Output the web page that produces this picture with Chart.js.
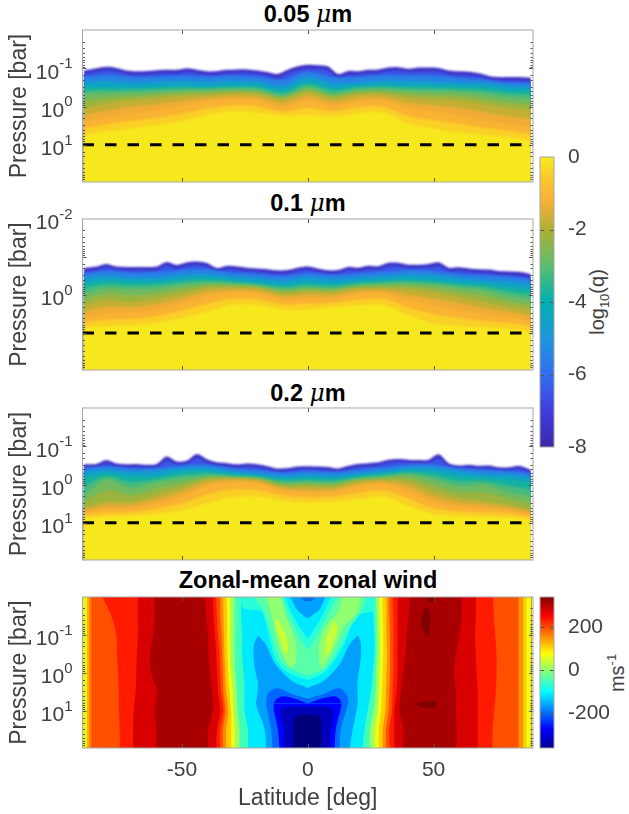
<!DOCTYPE html>
<html>
<head>
<meta charset="utf-8">
<style>
  html, body { margin: 0; padding: 0; background: #fff; }
  body { position: relative; width: 629px; height: 814px; overflow: hidden; font-family: "Liberation Sans", Arial, sans-serif; color: #000; }
  canvas { position: absolute; }
  .titulo { position: absolute; left: 82px; width: 452px; text-align: center; font-size: 23.5px; font-weight: bold; line-height: 24px; white-space: nowrap; }
  .titulo i { font-family: "DejaVu Serif", serif; font-weight: normal; }
  .rotulo { position: absolute; font-size: 20px; color: #404040; white-space: nowrap; transform: translate(-50%, -50%) rotate(-90deg); }
  .rotulo sub, .rotulo sup { font-size: 13px; line-height: 0; }
</style>
</head>
<body>
<div class="titulo" style="top:2px">0.05 <i>&mu;</i>m</div>
<div class="titulo" style="top:191px">0.1 <i>&mu;</i>m</div>
<div class="titulo" style="top:381px">0.2 <i>&mu;</i>m</div>
<div class="titulo" style="top:568px">Zonal-mean zonal wind</div>
<div class="rotulo" style="left:597px;top:302px">log<sub>10</sub>(q)</div>
<div class="rotulo" style="left:617px;top:673px">ms<sup>-1</sup></div>
<canvas id="painel1"></canvas>
<canvas id="painel2"></canvas>
<canvas id="painel3"></canvas>
<canvas id="painel4"></canvas>
<canvas id="barraQ"></canvas>
<canvas id="barraVento"></canvas>
<script src="https://cdn.jsdelivr.net/npm/chart.js@4"></script>
<script>
// ============================
// Data: log10(pressure [bar]) of each q contour vs latitude
// ============================
const lat4 = [-89,-84,-80,-76,-72,-68,-64,-60,-56,-52,-48,-44,-40,-36,-32,-28,-24,-20,-16,-12,-8,-4,0,4,8,12,16,20,24,28,32,36,40,44,48,52,56,60,64,68,72,76,80,84,88.7];
const lat10 = [-89,-80,-70,-60,-50,-40,-30,-20,-10,0,10,20,30,40,50,60,70,80,88.7];
const qLevels = [-8,-7,-6,-5,-4,-3.5,-3,-2.5,-2,-1.5,-1,-0.6,-0.3];
const qBandColors = ['rgb(62,50,195)','rgb(58,85,232)','rgb(40,130,230)','rgb(15,162,198)','rgb(20,178,160)','rgb(70,187,125)','rgb(112,186,95)','rgb(155,180,62)','rgb(195,175,52)','rgb(240,172,52)','rgb(250,178,50)','rgb(250,208,38)','rgb(247,232,30)'];

// 0.05 um
const a_m8 = [-.94,-1.00,-1.04,-1.01,-.94,-.92,-.93,-.95,-.96,-.96,-1.00,-.96,-.92,-.93,-.96,-.97,-.97,-.94,-.90,-.85,-.96,-1.05,-1.09,-1.08,-1.05,-.85,-.93,-.92,-.96,-.97,-1.02,-1.03,-.99,-1.02,-1.02,-1.01,-.94,-.92,-.91,-.87,-.80,-.77,-.77,-.77,-.75];
const a_m7 = [-.85,-.90,-.95,-.92,-.85,-.83,-.84,-.86,-.87,-.86,-.91,-.87,-.83,-.84,-.87,-.88,-.88,-.85,-.81,-.75,-.86,-.95,-.99,-.98,-.95,-.75,-.83,-.83,-.87,-.88,-.92,-.94,-.90,-.92,-.92,-.91,-.85,-.83,-.82,-.79,-.72,-.69,-.68,-.68,-.66];
const a_m6 = [-.77,-.83,-.77,-.78,-.80,-.78,-.80,-.78,-.70,-.91,-.77,-.77,-.82,-.81,-.81,-.75,-.70,-.63,-.61];
const a_m5 = [-.65,-.67,-.63,-.65,-.67,-.65,-.67,-.65,-.54,-.77,-.61,-.63,-.68,-.67,-.65,-.63,-.61,-.54,-.52];
const a_m4 = [-.50,-.50,-.50,-.52,-.54,-.52,-.54,-.54,-.42,-.63,-.48,-.54,-.56,-.54,-.54,-.52,-.50,-.43,-.42];
const a_m35 = [-.42,-.43,-.44,-.46,-.48,-.48,-.50,-.49,-.35,-.57,-.41,-.49,-.51,-.48,-.47,-.45,-.42,-.34,-.32];
const a_m3 = [-.33,-.35,-.37,-.39,-.42,-.43,-.45,-.43,-.28,-.50,-.33,-.43,-.45,-.42,-.40,-.38,-.33,-.24,-.21];
const a_m25 = [-.15,-.22,-.27,-.31,-.35,-.37,-.40,-.38,-.24,-.44,-.28,-.38,-.39,-.33,-.30,-.27,-.20,-.10,-.06];
const a_m2 = [.04,-.09,-.17,-.22,-.28,-.30,-.35,-.33,-.19,-.37,-.22,-.32,-.33,-.24,-.19,-.16,-.07,.04,.10];
const a_m15 = [.21,.10,.00,-.07,-.15,-.22,-.27,-.25,-.09,-.27,-.12,-.23,-.24,-.10,-.03,.03,.14,.25,.32];
const a_m1 = [.39,.28,.17,.09,-.02,-.13,-.19,-.16,.02,-.17,-.02,-.13,-.15,.04,.13,.22,.35,.45,.54];
const a_m06 = [.57,.47,.37,.29,.19,.05,-.03,.00,.13,.03,.12,.02,.01,.25,.35,.45,.55,.63,.72];
const a_m03 = [.74,.65,.57,.48,.39,.22,.13,.16,.24,.22,.26,.17,.16,.45,.57,.68,.74,.80,.89];

// 0.1 um
const b_m8 = [-.71,-.75,-.82,-.75,-.74,-.74,-.74,-.75,-.87,-.79,-.86,-.88,-.84,-.71,-.77,-.75,-.72,-.70,-.68,-.65,-.66,-.72,-.75,-.70,-.65,-.66,-.74,-.72,-.77,-.76,-.85,-.85,-.80,-.80,-.82,-.86,-.72,-.73,-.70,-.68,-.67,-.63,-.62,-.61,-.55];
const b_m7 = [-.62,-.66,-.73,-.67,-.65,-.65,-.65,-.66,-.78,-.70,-.77,-.79,-.75,-.62,-.68,-.66,-.63,-.61,-.59,-.56,-.57,-.63,-.66,-.61,-.56,-.57,-.65,-.63,-.68,-.67,-.76,-.76,-.71,-.71,-.73,-.77,-.63,-.64,-.61,-.59,-.58,-.54,-.53,-.52,-.46];
const b_m6 = [-.57,-.63,-.59,-.60,-.66,-.68,-.59,-.55,-.50,-.57,-.53,-.57,-.61,-.66,-.63,-.55,-.52,-.48,-.41];
const b_m5 = [-.46,-.50,-.46,-.46,-.53,-.55,-.48,-.44,-.38,-.46,-.41,-.46,-.50,-.54,-.52,-.45,-.39,-.35,-.29];
const b_m4 = [-.31,-.38,-.35,-.35,-.41,-.44,-.38,-.32,-.26,-.32,-.29,-.35,-.38,-.41,-.39,-.32,-.29,-.20,-.15];
const b_m35 = [-.18,-.28,-.25,-.27,-.34,-.38,-.34,-.29,-.21,-.26,-.23,-.31,-.34,-.36,-.33,-.26,-.21,-.09,-.02];
const b_m3 = [-.04,-.18,-.15,-.18,-.26,-.31,-.29,-.25,-.15,-.20,-.17,-.26,-.29,-.31,-.27,-.20,-.13,.03,.11];
const b_m25 = [.12,-.03,.01,-.05,-.15,-.25,-.25,-.22,-.10,-.15,-.13,-.22,-.24,-.23,-.17,-.08,.02,.17,.26];
const b_m2 = [.29,.13,.18,.09,-.04,-.18,-.20,-.18,-.04,-.09,-.08,-.17,-.18,-.15,-.06,.04,.18,.31,.41];
const b_m15 = [.45,.30,.32,.23,.09,-.08,-.13,-.11,.03,.00,.00,-.10,-.12,-.01,.10,.21,.34,.44,.55];
const b_m1 = [.61,.48,.46,.38,.22,.03,-.06,-.04,.11,.09,.09,-.03,-.06,.13,.26,.39,.50,.57,.68];
const b_m06 = [.73,.65,.63,.55,.41,.23,.10,.11,.24,.23,.20,.12,.10,.33,.50,.60,.68,.73,.81];
const b_m03 = [.85,.82,.79,.73,.61,.44,.26,.26,.38,.38,.32,.27,.26,.53,.75,.82,.85,.89,.94];

// 0.2 um
const c_m8 = [-.53,-.54,-.64,-.55,-.53,-.54,-.52,-.54,-.73,-.60,-.63,-.80,-.66,-.58,-.56,-.53,-.55,-.53,-.48,-.42,-.43,-.47,-.48,-.47,-.46,-.42,-.49,-.54,-.56,-.58,-.65,-.67,-.65,-.64,-.65,-.79,-.56,-.50,-.52,-.49,-.50,-.45,-.45,-.49,-.38];
const c_m7 = [-.45,-.46,-.55,-.47,-.45,-.46,-.44,-.46,-.63,-.52,-.54,-.70,-.57,-.50,-.48,-.45,-.47,-.45,-.40,-.34,-.35,-.39,-.40,-.39,-.38,-.34,-.41,-.46,-.48,-.50,-.57,-.59,-.57,-.56,-.57,-.68,-.48,-.42,-.44,-.41,-.42,-.37,-.37,-.41,-.30];
const c_m6 = [-.42,-.47,-.42,-.43,-.50,-.52,-.42,-.38,-.31,-.35,-.33,-.38,-.45,-.52,-.52,-.43,-.38,-.35,-.29];
const c_m5 = [-.33,-.38,-.33,-.35,-.42,-.43,-.35,-.29,-.22,-.26,-.24,-.29,-.36,-.43,-.43,-.35,-.27,-.26,-.18];
const c_m4 = [-.18,-.29,-.20,-.22,-.33,-.35,-.27,-.22,-.15,-.17,-.15,-.22,-.29,-.35,-.33,-.22,-.17,-.13,-.06];
const c_m35 = [.03,-.21,-.06,-.14,-.24,-.29,-.24,-.20,-.10,-.12,-.10,-.19,-.25,-.31,-.23,-.09,-.09,.03,.12];
const c_m3 = [.27,-.13,.09,-.06,-.15,-.22,-.20,-.17,-.04,-.06,-.04,-.15,-.20,-.26,-.13,.04,.00,.20,.31];
const c_m25 = [.44,.15,.27,.10,-.03,-.18,-.18,-.15,.00,.00,.01,-.12,-.16,-.17,.02,.20,.21,.37,.48];
const c_m2 = [.59,.44,.44,.27,.09,-.13,-.15,-.12,.04,.06,.06,-.08,-.12,-.08,.18,.35,.42,.53,.65];
const c_m15 = [.66,.55,.53,.39,.20,-.05,-.11,-.08,.10,.14,.13,-.01,-.07,.05,.33,.47,.52,.61,.71];
const c_m1 = [.73,.65,.62,.50,.31,.04,-.06,-.03,.15,.22,.20,.06,-.01,.18,.47,.58,.62,.68,.77];
const c_m06 = [.80,.74,.72,.63,.49,.26,.13,.14,.28,.34,.32,.22,.15,.37,.62,.70,.73,.77,.84];
const c_m03 = [.88,.84,.82,.77,.68,.49,.33,.31,.42,.47,.45,.38,.31,.56,.77,.82,.84,.86,.91];

// ============================
// Data: zonal wind band edges, latitude per log10(pressure) row
// ============================
const windRows = [-2.05,-1.5,-1,-.5,0,.5,1,1.5,2.05];
const wallL = [-89.3,-89.3,-89.3,-89.3,-89.3,-89.3,-89.3,-89.3,-89.3];
const e1 = [-87.7,-87.7,-87.7,-87.7,-87.7,-87.7,-87.7,-87.7,-87.7];
const e2 = [-86.9,-86.9,-86.9,-86.9,-86.9,-86.9,-86.9,-86.9,-86.9];
const e3 = [-86,-86,-86,-86,-86,-86,-86,-86,-86];
const e4 = [-82,-78,-76.1,-75.8,-75.4,-75.1,-75,-74.7,-74.7];
const e5 = [-67.5,-67.5,-67.5,-67.9,-68.1,-68.4,-69.2,-69.4,-69.4];
const e6 = [-61.2,-60.8,-61.5,-62.6,-62.2,-59.9,-60.8,-60.2,-60.2];
const e7 = [-41,-40.3,-39.7,-39.3,-38.8,-38,-37.7,-39.7,-39.3];
const e8 = [-37.7,-37.4,-36.9,-36.4,-36.1,-35.6,-34.8,-36.1,-36.4];
const e9 = [-36.4,-36.1,-35.7,-35.1,-34.8,-34.4,-33.5,-34.8,-34.8];
const e10 = [-34.8,-34.7,-34.3,-34,-33.7,-33.5,-32.7,-33.7,-33.5];
const e11 = [-33.7,-33.5,-33.3,-33.1,-32.8,-32.4,-31.6,-32.4,-32.4];
const e12 = [-32.1,-32.1,-32,-31.9,-31.6,-31.1,-30.4,-30.4,-30.4];
const e13 = [-30.8,-30.8,-30.8,-30.8,-30.4,-29.8,-29.5,-29,-29];
const e14 = [-29.1,-29.1,-29.1,-29.1,-28.7,-28.2,-27.8,-27.1,-27.1];
const e15 = [-26.5,-26.5,-26.1,-26.1,-25.5,-25.1,-25.1,-23.8,-23.8];
const r15 = [26.1,26.1,26.5,26.5,25.8,25.1,23.8,22.5,21.8];
const r14 = [27.1,27.4,27.4,27.4,27.1,26.9,26.1,24.7,24.7];
const r13 = [28.4,28.4,28.7,28.7,28.4,28.2,27.8,26.6,26.6];
const r12 = [29.8,29.8,30,30,29.8,29.5,29.1,28.2,28.2];
const r11 = [31.3,31.3,31.3,31.6,31.3,31.1,30.8,29.8,29.8];
const r10 = [32.4,32.4,32.7,32.7,32.7,32.4,32.1,31.1,31.1];
const r9 = [33.7,34,34,34,34,33.7,33.5,32.4,32.7];
const r8 = [35.7,35.7,35.7,35.7,35.7,35.3,34.4,34.4,34.4];
const r7 = [40.3,40.1,39.3,38.8,38,37,36.4,38,37.7];
const r6 = [61.2,61.2,60.2,58.9,58.2,58.9,58.9,59.1,59.1];
const r5 = [66.8,66.8,66.5,66.8,67.1,67.5,67.5,67.5,67.5];
const r4 = [73.7,73.9,74.5,75,75,74.7,74.1,73.4,73.4];
const r3 = [83.7,83.7,83.7,83.7,83.7,83.7,83.7,83.7,83.7];
const r2 = [85.6,85.6,85.6,85.6,85.6,85.6,85.6,85.6,85.6];
const r1 = [86.9,86.9,86.9,86.9,86.9,86.9,86.9,86.9,86.9];
const wallR = [88.8,88.8,88.8,88.8,88.8,88.8,88.8,88.8,88.8];

const windEdges = [wallL,e1,e2,e3,e4,e5,e6,e7,e8,e9,e10,e11,e12,e13,e14,e15,r15,r14,r13,r12,r11,r10,r9,r8,r7,r6,r5,r4,r3,r2,r1];
const windEdgeColors = ['#e4f51c','#ffb000','#ff8000','#ff5000','#ff1a00','#d80000','#a80000','#d80000','#ff1a00','#ff5000','#ff8c00','#ffc800','#f0ff10','#a0ff60','#40ffb8','#00eaff','#40ffb8','#a0ff60','#e8ff18','#ffd000','#ff9000','#ff5000','#ff1a00','#d80000','#a80000','#d80000','#ff1a00','#ff5000','#ff9000','#ffd000','#e8ff18'];

// closed regions inside the wind panel: rows, left edge, right edge
const tealRows = [-2.05,-1.72,-1.63,-1.51,-1.18,-.74,-.30,.01,.18];
const tealL = [-26.5,-25.8,-18.5,-17.5,-16.1,-14.6,-12.2,-7.3,0];
const tealR = [26.5,26.2,26.1,19.2,16.9,14.3,10.3,6,0];
const aquaRows = [-2.05,-1.61,-1.18,-.74,-.30,-.08,.07];
const aquaL = [-21.8,-17.5,-15.2,-13.2,-10.6,-6,0];
const aquaR = [23.8,21.2,16.5,13,9.3,6,0];
const greenRows = [-2.05,-1.61,-1.18,-.74,-.30,-.12];
const greenLL = [-16.9,-14.8,-13.2,-11.6,-8.6,-6.6];
const greenLR = [-10.3,-9.3,-6.6,-4.6,-4.6,-6.6];
const greenRL = [13.9,11.9,6.6,4.6,4.6,6];
const greenRR = [21.2,19.8,13.9,11.2,7.3,6];
const limeLRows = [-1.42,-1.18,-.91,-.52];
const limeLL = [-12.6,-12.6,-11.2,-9.3];
const limeLR = [-12.2,-9.9,-8.2,-7.7];
const limeRRows = [-1.37,-1.18,-.91,-.47];
const limeRL = [10.3,9,7.3,7];
const limeRR = [10.8,11.9,10.6,8.2];
const notchTealRows = [-2.05,-1.61,-1.18,-.82,-.61];
const notchTealL = [-10.6,-7.9,-5,-2,0];
const notchTealR = [11.9,8.6,5.3,2,0];
const notchCyanRows = [-2.05,-1.61,-1.18,-.91];
const notchCyanL = [-9.3,-6.6,-2.9,0];
const notchCyanR = [9.5,6.6,2.9,0];
const capRows = [-2.05,-1.7,-1.53,-1.44];
const capL = [-7.3,-4.6,-2,0];
const capR = [7.3,5,2,0];
const cap2Rows = [-2.05,-1.89];
const cap2L = [-4,-1.3];
const cap2R = [4,1.6];
const tongueRows = [-.98,-.74,-.30,.05,.25,.39];
const tongueLL = [-19.8,-21.4,-21.4,-20.5,-19.8,-19.8];
const tongueLR = [-19.6,-16.5,-13.5,-9,-5.3,0];
const tongueRL = [19.6,16.5,13.2,9,5.3,0];
const tongueRR = [20.1,21.2,20.9,20.1,19.8,19.8];
const bodyRows = [.39,.58,.84,1.46,2.05];
const bodyL = [-19.8,-20.1,-20.5,-17.2,-16.5];
const bodyR = [19.8,19.8,19.8,17.9,16.5];
const wing3Rows = [.40,.54,.68];
const wing3LL = [-13.2,-15.9,-16.4];
const wing3LR = [-11.2,-6.6,0];
const wing3RL = [11.2,6.6,0];
const wing3RR = [13.2,15.2,16.1];
const core3Rows = [.68,.84,1.46,2.05];
const core3L = [-16.4,-16.5,-14.6,-13.9];
const core3R = [16.1,15.9,13.2,12.6];
const wing2Rows = [.61,.69,.80];
const wing2LL = [-10.6,-12.6,-13.5];
const wing2LR = [-8.6,-4.6,0];
const wing2RL = [9.3,4.6,0];
const wing2RR = [11.2,12.6,13.5];
const core2Rows = [.80,.97,1.46,2.05];
const core2L = [-13.5,-13.5,-11.9,-11.2];
const core2R = [13.5,13,11.2,10.6];
const core1Rows = [.88,.97,1.46,2.05];
const core1L = [-7.5,-10.8,-9.5,-9.3];
const core1R = [6.5,10.2,9,8.6];
const core0Rows = [1.09,1.18,1.46,2.05];
const core0L = [-3.3,-5.3,-5.7,-5.7];
const core0R = [3.3,5,5.3,5.3];
const spotARows = [-1.71,-1.49,-1.23,-.98];
const spotAL = [46.3,45.4,45,47];
const spotAR = [47.6,48.9,48.5,48.3];
const spotBRows = [-2.05,-1.87];
const spotBL = [48,48];
const spotBR = [50.3,50.3];
const spotCRows = [.72,.81,.92];
const spotCL = [49.6,42.7,46.3];
const spotCR = [50.9,51.2,50.3];

// ============================
// Data: axes and colour bars
// ============================
const latTicks = [-50,0,50];
const p1Exponents = [-1,0,1];
const p2Exponents = [-2,0];
const p3Exponents = [-1,0,1];
const p4Exponents = [-1,0,1];
const dashPressure = 10;
const qBarTicks = [0,-2,-4,-6,-8];
const qBarStops = [-8,-7,-6,-5,-4,-3,-2,-1.2,-.5,0];
const qBarColors = ['rgb(60,40,170)','rgb(65,60,225)','rgb(50,110,240)','rgb(30,150,220)','rgb(0,175,175)','rgb(90,190,110)','rgb(175,175,50)','rgb(250,175,55)','rgb(250,205,40)','rgb(248,236,30)'];
const windBarTicks = [200,0,-200];
const windBarStops = [-360,-272.5,-97.5,77.5,252.5,340];
const windBarColors = ['#00008f','#0000ff','#00ffff','#ffff00','#ff0000','#800000'];

// ============================
// Helpers
// ============================
const familia = '"Liberation Sans", Arial, sans-serif';
const fonte = { family: familia, size: 21 };
const fonteEixo = { family: familia, size: 23 };
const corTexto = '#404040';

// ticks inside the box, on all four sides, like the original figure
const marcasInternas = {
  id: 'marcasInternas',
  afterDraw(chart) {
    const { ctx, chartArea: a, scales } = chart;
    ctx.save();
    ctx.lineWidth = 1;
    ctx.strokeStyle = '#555';
    ctx.beginPath();
    scales.y.ticks.forEach(t => {
      const py = Math.round(scales.y.getPixelForValue(t.value)) + 0.5;
      if (py < a.top + 1 || py > a.bottom - 1) return;
      const log = Math.log10(Math.abs(t.value));
      const n = scales.y.type === 'logarithmic' && !Number.isInteger(Math.round(log * 1e6) / 1e6) ? 2.5 : 4;
      ctx.moveTo(a.left, py); ctx.lineTo(a.left + n, py);
      ctx.moveTo(a.right, py); ctx.lineTo(a.right - n, py);
    });
    if (scales.x.type === 'linear') {
      scales.x.ticks.forEach(t => {
        const px = Math.round(scales.x.getPixelForValue(t.value)) + 0.5;
        ctx.moveTo(px, a.top); ctx.lineTo(px, a.top + 4);
        ctx.moveTo(px, a.bottom); ctx.lineTo(px, a.bottom - 4);
      });
    }
    ctx.stroke();
    ctx.strokeStyle = '#a6a6a6';
    ctx.strokeRect(a.left, a.top, a.width, a.height);
    ctx.restore();
  }
};

// "10" with a raised exponent, which canvas tick labels can't do
function rotulosPotencia(expoentes) {
  return {
    id: 'rotulosPotencia',
    afterDraw(chart) {
      const { ctx, scales } = chart;
      ctx.save();
      ctx.fillStyle = corTexto;
      ctx.textAlign = 'right';
      ctx.textBaseline = 'middle';
      expoentes.forEach(e => {
        const py = scales.y.getPixelForValue(Math.pow(10, e));
        ctx.font = '15px ' + familia;
        const txt = String(e);
        const w = ctx.measureText(txt).width;
        ctx.fillText(txt, 72.5, py - 4.5);
        ctx.font = '21px ' + familia;
        ctx.fillText('10', 72.5 - w, py + 4.5);
      });
      ctx.restore();
    }
  };
}

// the band steps are soft in the original; the dashed line stays sharp
function desfoque(raio) {
  return {
    id: 'desfoque',
    beforeDatasetsDraw(chart) { chart.ctx.filter = 'blur(' + raio + 'px)'; },
    beforeDatasetDraw(chart, args) { if (args.meta.dataset.options.borderDash.length) chart.ctx.filter = 'none'; },
    afterDatasetsDraw(chart) { chart.ctx.filter = 'none'; }
  };
}

function opcoesPainel(comEixoX, indexAxis) {
  return {
    responsive: false,
    animation: false,
    indexAxis: indexAxis,
    events: [],
    layout: { padding: { top: 14, right: 6, left: 0, bottom: comEixoX ? 0 : 5 } },
    plugins: { legend: { display: false }, tooltip: { enabled: false }, title: { display: false } },
    scales: {
      x: {
        type: 'linear',
        min: -89.5,
        max: 89.5,
        grid: { display: false },
        border: { display: false },
        afterBuildTicks: s => { s.ticks = latTicks.map(v => ({ value: v })); },
        afterFit: s => { s.height = comEixoX ? 66 : 0; s.paddingLeft = 0; s.paddingRight = 0; },
        ticks: { display: comEixoX, color: corTexto, font: fonte, padding: 2, maxRotation: 0, callback: v => String(v) },
        title: { display: comEixoX, text: 'Latitude [deg]', color: corTexto, font: fonteEixo, padding: { top: 0, bottom: 2 } }
      },
      y: {
        type: 'logarithmic',
        reverse: true,
        min: 0.01,
        max: Math.pow(10, 1.97),
        grid: { display: false },
        border: { display: false },
        afterFit: s => { s.width = 82.5; s.paddingTop = 0; s.paddingBottom = 0; },
        ticks: { display: false },
        title: { display: true, text: 'Pressure [bar]', color: corTexto, font: fonteEixo, padding: { top: 6, bottom: 0 } }
      }
    }
  };
}

function montaCanvas(id, left, top, w, h) {
  const c = document.getElementById(id);
  c.width = w;
  c.height = h;
  c.style.left = left + 'px';
  c.style.top = top + 'px';
  c.style.width = w + 'px';
  c.style.height = h + 'px';
  return c;
}

// one top panel: every level is filled down past the bottom of the box, deepest last
function painelQ(id, top, bottom, expoentes, camadas) {
  const c = montaCanvas(id, 0, top - 14, 539, bottom - top + 19);
  const total = camadas.length + 1;
  const datasets = camadas.map((arr, i) => {
    const lats = arr.length === lat4.length ? lat4 : lat10;
    return {
      data: arr.map((v, k) => ({ x: lats[k], y: Math.pow(10, v) })),
      fill: { value: 1000 },
      backgroundColor: qBandColors[i],
      borderWidth: 0,
      pointRadius: 0,
      tension: 0.3,
      borderDash: [],
      order: total - i
    };
  });
  datasets.push({
    data: [{ x: -89.5, y: dashPressure }, { x: 89.5, y: dashPressure }],
    fill: false,
    borderColor: '#000',
    borderWidth: 3,
    borderDash: [11.5, 11],
    pointRadius: 0,
    order: 0
  });
  return new Chart(c, {
    type: 'line',
    data: { datasets },
    options: opcoesPainel(false, 'x'),
    plugins: [desfoque(0.8), marcasInternas, rotulosPotencia(expoentes)]
  });
}

// ============================
// Zonal wind panel
// ============================
function painelVento() {
  const c = montaCanvas('painel4', 0, 583, 539, 231);
  const lista = [];
  function banda(rows, esq, dir, cor) {
    const pontos = arr => rows.map((r, i) => ({ x: arr[i], y: Math.pow(10, r) }));
    const base = { borderWidth: 0, pointRadius: 0, tension: 0.3, borderDash: [] };
    lista.push({ ...base, data: pontos(esq), fill: false });
    lista.push({ ...base, data: pontos(dir), fill: '-1', backgroundColor: cor });
  }
  // paint from left to right, each band reaches the far wall and the next covers it
  windEdges.forEach((ed, i) => banda(windRows, ed, wallR, windEdgeColors[i]));
  banda(tealRows, tealL, tealR, '#28ffd8');
  banda(aquaRows, aquaL, aquaR, '#58ffa8');
  banda(greenRows, greenLL, greenLR, '#90ff70');
  banda(greenRows, greenRL, greenRR, '#90ff70');
  banda(limeLRows, limeLL, limeLR, '#c8ff38');
  banda(limeRRows, limeRL, limeRR, '#c8ff38');
  banda(notchTealRows, notchTealL, notchTealR, '#28ffd8');
  banda(notchCyanRows, notchCyanL, notchCyanR, '#00eaff');
  banda(capRows, capL, capR, '#00a0ff');
  banda(cap2Rows, cap2L, cap2R, '#0070ff');
  banda(tongueRows, tongueLL, tongueLR, '#00a0ff');
  banda(tongueRows, tongueRL, tongueRR, '#00a0ff');
  banda(bodyRows, bodyL, bodyR, '#00a0ff');
  banda(wing3Rows, wing3LL, wing3LR, '#0068ff');
  banda(wing3Rows, wing3RL, wing3RR, '#0068ff');
  banda(core3Rows, core3L, core3R, '#0068ff');
  banda(wing2Rows, wing2LL, wing2LR, '#0000ff');
  banda(wing2Rows, wing2RL, wing2RR, '#0000ff');
  banda(core2Rows, core2L, core2R, '#0000ff');
  banda(core1Rows, core1L, core1R, '#0000b8');
  banda(core0Rows, core0L, core0R, '#00007a');
  banda(spotARows, spotAL, spotAR, '#800000');
  banda(spotBRows, spotBL, spotBR, '#800000');
  banda(spotCRows, spotCL, spotCR, '#800000');
  lista.forEach((d, i) => { d.order = lista.length - i; });
  return new Chart(c, {
    type: 'line',
    data: { datasets: lista },
    options: opcoesPainel(true, 'y'),
    plugins: [desfoque(0.5), marcasInternas, rotulosPotencia(p4Exponents)]
  });
}

// ============================
// Colour bars
// ============================
function barraCor(id, top, bottom, min, max, marcas, stops, cores) {
  const c = montaCanvas(id, 530, top - 12, 99, bottom - top + 24);
  return new Chart(c, {
    type: 'bar',
    data: {
      labels: [''],
      datasets: [{
        data: [[min, max]],
        barPercentage: 1,
        categoryPercentage: 1,
        backgroundColor: ctx => {
          const a = ctx.chart.chartArea;
          if (!a) return '#000';
          const g = ctx.chart.ctx.createLinearGradient(0, a.bottom, 0, a.top);
          stops.forEach((s, i) => g.addColorStop((s - min) / (max - min), cores[i]));
          return g;
        }
      }]
    },
    options: {
      responsive: false,
      animation: false,
      events: [],
      layout: { padding: { top: 12, bottom: 12, left: 10, right: 0 } },
      plugins: { legend: { display: false }, tooltip: { enabled: false } },
      scales: {
        x: { display: false },
        y: {
          position: 'right',
          min: min,
          max: max,
          grid: { display: false },
          border: { display: false },
          afterBuildTicks: s => { s.ticks = marcas.map(v => ({ value: v })); },
          afterFit: s => { s.width = 75; s.paddingTop = 0; s.paddingBottom = 0; },
          ticks: { color: corTexto, font: fonte, padding: 6, callback: v => String(v) }
        }
      }
    },
    plugins: [marcasInternas]
  });
}

// ============================
// Render
// ============================
painelQ('painel1', 30, 182, p1Exponents, [a_m8,a_m7,a_m6,a_m5,a_m4,a_m35,a_m3,a_m25,a_m2,a_m15,a_m1,a_m06,a_m03]);
painelQ('painel2', 219, 370, p2Exponents, [b_m8,b_m7,b_m6,b_m5,b_m4,b_m35,b_m3,b_m25,b_m2,b_m15,b_m1,b_m06,b_m03]);
painelQ('painel3', 408, 560, p3Exponents, [c_m8,c_m7,c_m6,c_m5,c_m4,c_m35,c_m3,c_m25,c_m2,c_m15,c_m1,c_m06,c_m03]);
painelVento();
barraCor('barraQ', 157, 447, -8, 0, qBarTicks, qBarStops, qBarColors);
barraCor('barraVento', 597, 748, -360, 340, windBarTicks, windBarStops, windBarColors);
</script>
</body>
</html>
